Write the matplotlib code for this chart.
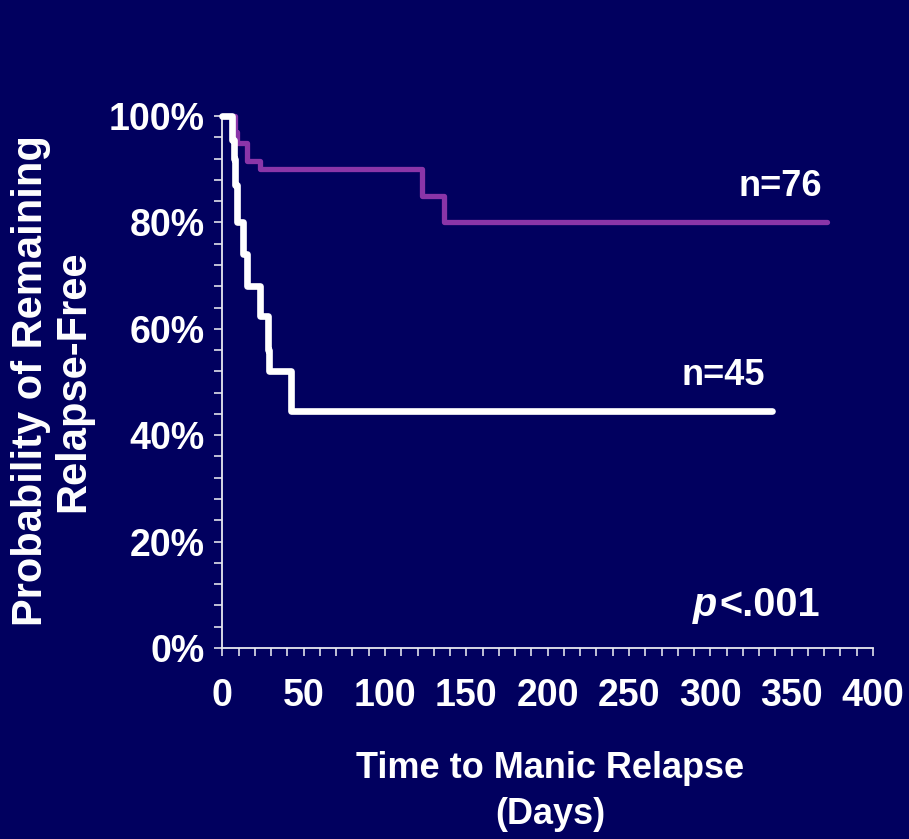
import matplotlib
matplotlib.use("Agg")
import matplotlib.pyplot as plt
from matplotlib.ticker import MultipleLocator, FuncFormatter

# Data
white_days = [0, 6, 7, 8, 9, 12.5, 15, 23, 28, 29, 42, 338]
white_surv = [100, 95.5, 92, 87, 80, 74, 68, 62.5, 56, 52, 44.5, 44.5]
purple_days = [0, 8, 9, 15, 23, 123, 136, 372]
purple_surv = [100, 97, 95, 91.5, 90, 85, 80, 80]
x_ticks = [0, 50, 100, 150, 200, 250, 300, 350, 400]
y_ticks = [0, 20, 40, 60, 80, 100]
labels = {"purple": "n=76", "white": "n=45", "p": "<.001"}

BG = "#01005F"
PURPLE = "#8A35A8"
plt.rcParams['font.family'] = ['Liberation Sans', 'DejaVu Sans']
plt.rcParams['font.weight'] = 'bold'

fig = plt.figure(figsize=(9.09, 8.39), dpi=100, facecolor=BG)
W, H = 909, 839
x0, x1, ytop, ybot = 222.3, 873, 116, 648
ax = fig.add_axes([x0 / W, 1 - ybot / H, (x1 - x0) / W, (ybot - ytop) / H])
ax.set_facecolor(BG)

ax.step(purple_days, purple_surv, where='post', color=PURPLE, lw=3.8,
        solid_capstyle='round', solid_joinstyle='round', clip_on=False, zorder=3)
ax.step(white_days, white_surv, where='post', color='white', lw=4.8,
        solid_capstyle='round', solid_joinstyle='round', clip_on=False, zorder=4)

ax.set_xlim(0, 400)
ax.set_ylim(0, 100)
for s in ['top', 'right']:
    ax.spines[s].set_visible(False)
for s in ['left', 'bottom']:
    ax.spines[s].set_color('#E8E8F0')
    ax.spines[s].set_linewidth(1.3)

ax.xaxis.set_major_locator(plt.FixedLocator(x_ticks))
ax.xaxis.set_minor_locator(MultipleLocator(10))
ax.yaxis.set_major_locator(plt.FixedLocator(y_ticks))
ax.yaxis.set_minor_locator(MultipleLocator(4))
ax.yaxis.set_major_formatter(FuncFormatter(lambda v, p: f"{int(v)}%"))

ax.tick_params(axis='both', which='both', colors='#E0E0EA', length=5.5, width=1.2,
               direction='out')
ax.tick_params(axis='x', which='major', labelsize=27, labelcolor='white', pad=16)
ax.tick_params(axis='y', which='major', labelsize=27, labelcolor='white', pad=7)
for lab in ax.get_xticklabels() + ax.get_yticklabels():
    lab.set_fontweight('bold')

ax.text(368.6, 86.8, labels["purple"], color='white', fontsize=26, fontweight='bold',
        ha='right', va='center')
ax.text(333.6, 51.3, labels["white"], color='white', fontsize=26, fontweight='bold',
        ha='right', va='center')
t = ax.text(367.4, 8.1, labels["p"], color='white', fontsize=28.5, fontweight='bold',
            ha='right', va='center')
ax.annotate("p", xy=(0, 0), xycoords=t, xytext=(-1.5, 0), textcoords='offset points',
            ha='right', va='bottom', color='white',
            fontsize=28.5, fontweight='bold', fontstyle='italic')

fig.text(52 / W, 1 - 381 / H, "Probability of Remaining\nRelapse-Free", rotation=90,
         color='white', fontsize=30, fontweight='bold', ha='center', va='center',
         multialignment='center', linespacing=1.05)
fig.text(550 / W, 1 - 768 / H, "Time to Manic Relapse", color='white', fontsize=26,
         fontweight='bold', ha='center', va='center')
fig.text(550 / W, 1 - 815 / H, "(Days)", color='white', fontsize=26,
         fontweight='bold', ha='center', va='center')

fig.savefig("out.png", dpi=100, facecolor=BG)
